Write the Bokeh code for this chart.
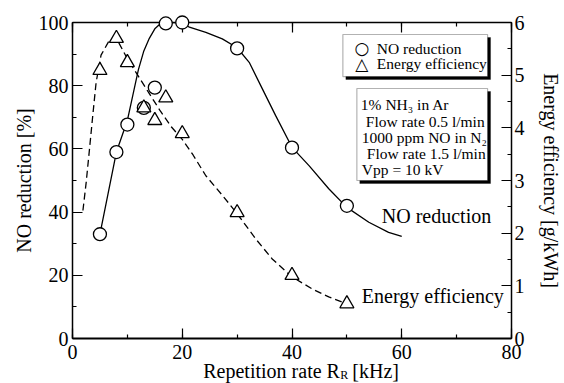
from bokeh.plotting import figure
from bokeh.models import (Range1d, LinearAxis, SingleIntervalTicker, Label,
                          BoxAnnotation)
from bokeh.core.properties import value
from bokeh.embed import file_html
from bokeh.resources import INLINE

# ---- data ----
rate_no = [5, 8, 10, 13, 15, 17, 20, 30, 40, 50]
no_reduction = [33, 59, 67.7, 73, 79.4, 99.7, 100, 91.8, 60.4, 42]

rate_eff = [5, 8, 10, 13, 15, 17, 20, 30, 40, 50]
energy_eff = [5.09, 5.7, 5.24, 4.38, 4.14, 4.57, 3.89, 2.39, 1.2, 0.66]

# fitted curves
fit_no_x = [5, 6.5, 8, 9, 10, 11, 12, 13, 14, 15, 16, 17, 20, 21.3, 24.3, 27.3,
            30, 32.2, 34.6, 37, 40, 43.1, 46.7, 50, 54, 57.6, 60]
fit_no_y = [33, 46, 59, 64, 69, 77, 85, 91, 95, 98, 99.6, 100, 100, 98.5, 96.9,
            94.8, 92, 87.4, 79, 70.6, 60.5, 54.7, 47.4, 41.5, 36.8, 33.6, 32.3]

fit_eff_x = [1.9, 2.5, 3.1, 3.7, 4.3, 5.2, 6.7, 7.9, 10, 12, 14, 16, 18, 20, 22,
             24.3, 27.3, 30, 33.4, 36.4, 40, 43.7, 46.7, 50]
fit_eff_y = [2.43, 2.97, 3.6, 4.24, 4.86, 5.38, 5.66, 5.72, 5.31, 4.98, 4.65,
             4.32, 4.02, 3.78, 3.48, 3.09, 2.72, 2.37, 1.89, 1.51, 1.17, 0.94,
             0.79, 0.66]

x_ticks = [0, 20, 40, 60, 80]
x_label_parts = ["Repetition rate R", "R", "[kHz]"]
legend_labels = ["NO reduction", "Energy efficiency"]
legend_symbols = ["\u25CB", "\u25B3"]
info_lines = ["1% NH\u2083 in Ar", "Flow rate 0.5 l/min", "1000 ppm NO in N\u2082",
              "Flow rate 1.5 l/min", "Vpp = 10 kV"]
FONT = "Liberation Serif"

p = figure(width=564, height=383, output_backend="svg", toolbar_location=None,
           x_range=Range1d(0, 80), y_range=Range1d(0, 100),
           min_border_left=72, min_border_right=52, min_border_top=22,
           min_border_bottom=45, x_axis_location=None, y_axis_location=None)
p.extra_y_ranges = {"eff": Range1d(0, 6)}
p.xgrid.visible = False
p.ygrid.visible = False
p.outline_line_color = None
p.background_fill_color = "white"
p.border_fill_color = "white"


def style_axis(ax, standoff=4):
    ax.axis_line_color = "black"
    ax.axis_line_width = 1.5
    ax.major_tick_in = 10
    ax.major_tick_out = 0
    ax.minor_tick_in = 4
    ax.minor_tick_out = 0
    ax.major_tick_line_color = "black"
    ax.minor_tick_line_color = "black"
    ax.major_tick_line_width = 1.2
    ax.minor_tick_line_width = 1.2
    ax.major_label_text_font = FONT
    ax.major_label_text_font_size = "20px"
    ax.major_label_text_color = "black"
    ax.major_label_standoff = standoff
    ax.axis_label_text_font = FONT
    ax.axis_label_text_font_size = "20px"
    ax.axis_label_text_font_style = "normal"
    ax.axis_label_text_color = "black"


xb = LinearAxis(ticker=SingleIntervalTicker(interval=20, num_minor_ticks=2))
style_axis(xb, standoff=6)
xb.axis_line_width = 2.2
p.add_layout(xb, "below")

xt = LinearAxis(ticker=SingleIntervalTicker(interval=20, num_minor_ticks=2))
style_axis(xt)
xt.major_label_overrides = {v: "" for v in x_ticks}
xt.major_label_standoff = 0
p.add_layout(xt, "above")

yl = LinearAxis(ticker=SingleIntervalTicker(interval=20, num_minor_ticks=2),
                axis_label="NO reduction [%]")
style_axis(yl, standoff=4)
yl.axis_label_standoff = 1
p.add_layout(yl, "left")

yr = LinearAxis(y_range_name="eff", ticker=SingleIntervalTicker(interval=1, num_minor_ticks=2),
                axis_label="Energy efficiency [g/kWh]")
style_axis(yr, standoff=3)
yr.axis_label_standoff = 12
p.add_layout(yr, "right")

# curves
p.line(fit_no_x, fit_no_y, line_color="black", line_width=1.3)
p.line(fit_eff_x, fit_eff_y, y_range_name="eff", line_color="black",
       line_width=1.3, line_dash="7 4")

# markers (overlay level so the points on the top edge are not cut)
p.scatter(rate_no, no_reduction, marker="circle", size=13, level="overlay",
          fill_color="white", line_color="black", line_width=1.3)
p.scatter(rate_eff, energy_eff, y_range_name="eff", marker="triangle", level="overlay",
          size=14, fill_color="white", line_color="black", line_width=1.3)


def txt(x, y, t, size, align="left", font=FONT):
    p.add_layout(Label(x=x, y=y, text=t,
                       text_font=font, text_font_size=size,
                       text_baseline="middle", text_align=align, text_color="black"))


# legend box with shadow
p.add_layout(BoxAnnotation(left=49.82, right=76.18, top=95.25, bottom=81.96,
                           fill_color="black", fill_alpha=1, line_color="black"))
p.add_layout(BoxAnnotation(left=49.27, right=75.64, top=96.2, bottom=82.9,
                           fill_color="white", fill_alpha=1, line_color="black",
                           line_width=1.2))
for t, s, yy in zip(legend_labels, legend_symbols, [91.8, 86.9]):
    txt(52.73, yy, s, "17px", align="center", font="DejaVu Sans")
    txt(55.45, yy, t, "15.5px")

# info box with shadow
p.add_layout(BoxAnnotation(left=52.36, right=76.18, top=78.16, bottom=49.05,
                           fill_color="black", fill_alpha=1, line_color="black"))
p.add_layout(BoxAnnotation(left=51.82, right=75.64, top=79.11, bottom=50.0,
                           fill_color="white", fill_alpha=1, line_color="black",
                           line_width=1.2))
info_x = [52.55, 53.45, 52.73, 53.64, 52.73]
info_y = [74.05, 68.67, 63.61, 58.54, 53.48]
for t, xx, yy in zip(info_lines, info_x, info_y):
    txt(xx, yy, t, "15.5px")

# curve annotations
txt(56.36, 38.9, "NO reduction", "20px")
txt(52.73, 13.6, "Energy efficiency", "20px")

# x axis label with subscript: text glyphs on the overlay level (not clipped)
p.text(x=[48.73, 48.8, 51.0], y=[-10.13, -11.7, -10.13], text=x_label_parts,
       text_font=value(FONT), text_font_size=["20px", "12px", "20px"],
       text_align=["right", "left", "left"], text_baseline="middle",
       text_color="black", level="overlay")

open("out.html", "w").write(file_html(p, INLINE))
